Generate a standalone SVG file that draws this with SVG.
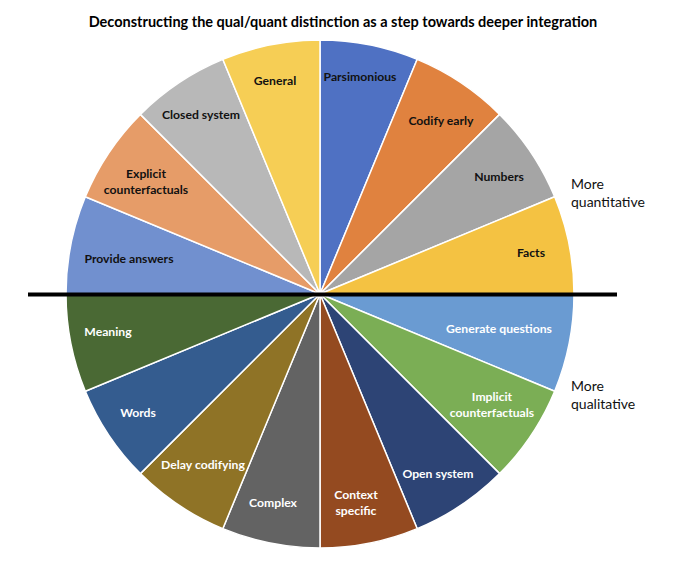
<svg xmlns="http://www.w3.org/2000/svg" width="700" height="561" viewBox="0 0 700 561">
<style>
.s{stroke:#fff;stroke-width:1.5;stroke-linejoin:round}
.l{font-family:Lato,"Open Sans","Liberation Sans",sans-serif;font-weight:bold;font-size:12.2px;text-anchor:middle}
.d{fill:#111}
.w{fill:#fff}
.side{font-family:Lato,"Open Sans","Liberation Sans",sans-serif;font-size:14px;fill:#111}
</style>
<rect width="700" height="561" fill="#fff"/>
<text x="343" y="27" style="font-family:Lato,'Open Sans','Liberation Sans',sans-serif;font-weight:bold;font-size:14.5px;fill:#000" text-anchor="middle">Deconstructing the qual/quant distinction as a step towards deeper integration</text>
<g id="slices">
<g id="parsimonious"><path class="s" fill="#4F71C3" d="M320,294 L320,40 A254,254 0 0 1 417.20,59.33 Z"/><text class="l d" x="360" y="81">Parsimonious</text></g>
<g id="codify-early"><path class="s" fill="#E0823F" d="M320,294 L417.20,59.33 A254,254 0 0 1 499.61,114.39 Z"/><text class="l d" x="441" y="125">Codify early</text></g>
<g id="numbers"><path class="s" fill="#A5A5A5" d="M320,294 L499.61,114.39 A254,254 0 0 1 554.67,196.80 Z"/><text class="l d" x="499" y="181">Numbers</text></g>
<g id="facts"><path class="s" fill="#F4C242" d="M320,294 L554.67,196.80 A254,254 0 0 1 574,294 Z"/><text class="l d" x="531" y="257">Facts</text></g>
<g id="generate-questions"><path class="s" fill="#6A9BD2" d="M320,294 L574,294 A254,254 0 0 1 554.67,391.20 Z"/><text class="l w" x="499" y="333">Generate questions</text></g>
<g id="implicit-counterfactuals"><path class="s" fill="#7BAE55" d="M320,294 L554.67,391.20 A254,254 0 0 1 499.61,473.61 Z"/><text class="l w" x="492" y="401">Implicit</text><text class="l w" x="492" y="417">counterfactuals</text></g>
<g id="open-system"><path class="s" fill="#2D4475" d="M320,294 L499.61,473.61 A254,254 0 0 1 417.20,528.67 Z"/><text class="l w" x="438" y="478">Open system</text></g>
<g id="context-specific"><path class="s" fill="#944A20" d="M320,294 L417.20,528.67 A254,254 0 0 1 320,548 Z"/><text class="l w" x="356" y="499">Context</text><text class="l w" x="356" y="515">specific</text></g>
<g id="complex"><path class="s" fill="#636363" d="M320,294 L320,548 A254,254 0 0 1 222.80,528.67 Z"/><text class="l w" x="273" y="507">Complex</text></g>
<g id="delay-codifying"><path class="s" fill="#8F7326" d="M320,294 L222.80,528.67 A254,254 0 0 1 140.39,473.61 Z"/><text class="l w" x="203" y="469">Delay codifying</text></g>
<g id="words"><path class="s" fill="#345C8F" d="M320,294 L140.39,473.61 A254,254 0 0 1 85.33,391.20 Z"/><text class="l w" x="138" y="417">Words</text></g>
<g id="meaning"><path class="s" fill="#4A6934" d="M320,294 L85.33,391.20 A254,254 0 0 1 66,294 Z"/><text class="l w" x="108" y="336">Meaning</text></g>
<g id="provide-answers"><path class="s" fill="#7190CF" d="M320,294 L66,294 A254,254 0 0 1 85.33,196.80 Z"/><text class="l d" x="129" y="263">Provide answers</text></g>
<g id="explicit-counterfactuals"><path class="s" fill="#E69C68" d="M320,294 L85.33,196.80 A254,254 0 0 1 140.39,114.39 Z"/><text class="l d" x="146" y="178">Explicit</text><text class="l d" x="146" y="194">counterfactuals</text></g>
<g id="closed-system"><path class="s" fill="#B8B8B8" d="M320,294 L140.39,114.39 A254,254 0 0 1 222.80,59.33 Z"/><text class="l d" x="201" y="119">Closed system</text></g>
<g id="general"><path class="s" fill="#F6CE55" d="M320,294 L222.80,59.33 A254,254 0 0 1 320,40 Z"/><text class="l d" x="275" y="85">General</text></g>
</g>
<g id="connectors">
<line x1="28" y1="294.5" x2="617" y2="294.5" stroke="#000" stroke-width="4"/>
</g>
<g id="side-labels">
<text class="side" x="571" y="189">More</text>
<text class="side" x="571" y="207">quantitative</text>
<text class="side" x="571" y="391">More</text>
<text class="side" x="571" y="409">qualitative</text>
</g>
</svg>
